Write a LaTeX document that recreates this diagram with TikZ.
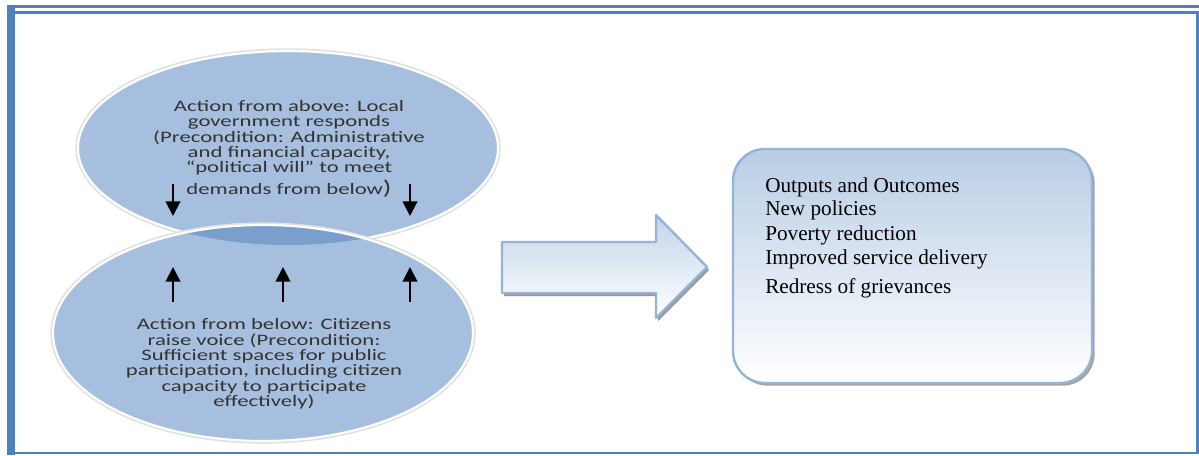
\documentclass[tikz,border=0pt]{standalone}
\usepackage{fontspec}
\setmainfont{Liberation Serif}
\newfontfamily\ovalfont[FakeStretch=1.42]{Carlito}
\usetikzlibrary{arrows.meta,shadows}
\definecolor{frameblue}{HTML}{4F81BD}
\definecolor{ovalfill}{HTML}{A7BFDE}
\definecolor{lensfill}{HTML}{7B9FCC}
\definecolor{arrowedge}{HTML}{95B3D7}
\definecolor{arrowtop}{HTML}{C3D4EA}
\definecolor{boxtop}{HTML}{B9CDE5}
\definecolor{inkgray}{HTML}{333333}
\tikzset{
  ovaltext/.style={font=\ovalfont\fontsize{12}{11.5}\selectfont, text=inkgray, align=center, inner sep=0pt},
  listline/.style={font=\fontsize{15.9}{18}\selectfont, anchor=base west, inner sep=0pt},
  pusharrow/.style={line width=1.5pt, -{Triangle[length=11pt,width=11pt]}},
  outbox/.style={draw=arrowedge, line width=1.8pt, rounded corners=24pt, top color=boxtop, bottom color=white,
    minimum width=359*0.75pt, minimum height=234*0.75pt,
    drop shadow={shadow xshift=2pt, shadow yshift=-2pt, fill=black!45, opacity=0.8}}
}
\begin{document}
\begin{tikzpicture}[x=0.75pt,y=-0.75pt]
\def\upperoval{(288,148) ellipse (210 and 97)}
\def\loweroval{(263,333) ellipse (210 and 108)}
\def\bigarrow{(502,242) -- (656,242) -- (656,215) -- (707,267) -- (656,318) -- (656,293) -- (502,293) -- cycle}
\useasboundingbox (0,0) rectangle (1199,455);

% page frame
\fill[frameblue] (7,4.8) rectangle (1199,7.6);
\fill[frameblue] (13,10.8) rectangle (1199,13.6);
\fill[frameblue] (7,4.8) rectangle (15,455);
\fill[frameblue] (13,451.6) rectangle (1199,454);
\fill[frameblue] (1196.4,10.8) rectangle (1199,454);

\draw[black!12, line width=4pt] \upperoval;
\fill[ovalfill] \upperoval;
\draw[white, line width=1.6pt] \upperoval;
\draw[black!12, line width=4pt] \loweroval;
\fill[ovalfill] \loweroval;

\begin{scope} % overlap of the two actions
\clip \upperoval;
\fill[lensfill] \loweroval;
\end{scope}
\draw[white, line width=1.6pt] \loweroval;

\node[ovaltext] (above) at (289,149) {Action from above: Local\\ government responds\\ (Precondition: Administrative\\ and financial capacity,\\ “political will” to meet\\[2.5pt] demands from below{\fontsize{15}{15}\selectfont)}};
\node[ovaltext] (below) at (264,364) {Action from below: Citizens\\ raise voice (Precondition:\\ Sufficient spaces for public\\ participation, including citizen\\ capacity to participate\\ effectively)};

\foreach \ax in {173,410} {
  \coordinate (dtail\ax) at (\ax,184);
  \coordinate (dhead\ax) at (\ax,216);
  \draw[pusharrow] (dtail\ax) -- (dhead\ax);
}
\foreach \ax in {173,283,410} {
  \coordinate (utail\ax) at (\ax,302);
  \coordinate (uhead\ax) at (\ax,267);
  \draw[pusharrow] (utail\ax) -- (uhead\ax);
}

\fill[black!40, shift={(2,3)}] \bigarrow;
\draw[arrowedge, line width=1.8pt, line join=round, top color=arrowtop, bottom color=white] \bigarrow;

\node[outbox] (results) at (912.5,266) {};
\foreach \txt/\yb [count=\i] in {Outputs and Outcomes/192, New policies/215, Poverty reduction/240, Improved service delivery/264, Redress of grievances/293}
  \node[listline] (out\i) at (765,\yb) {\txt};
\end{tikzpicture}
\end{document}
